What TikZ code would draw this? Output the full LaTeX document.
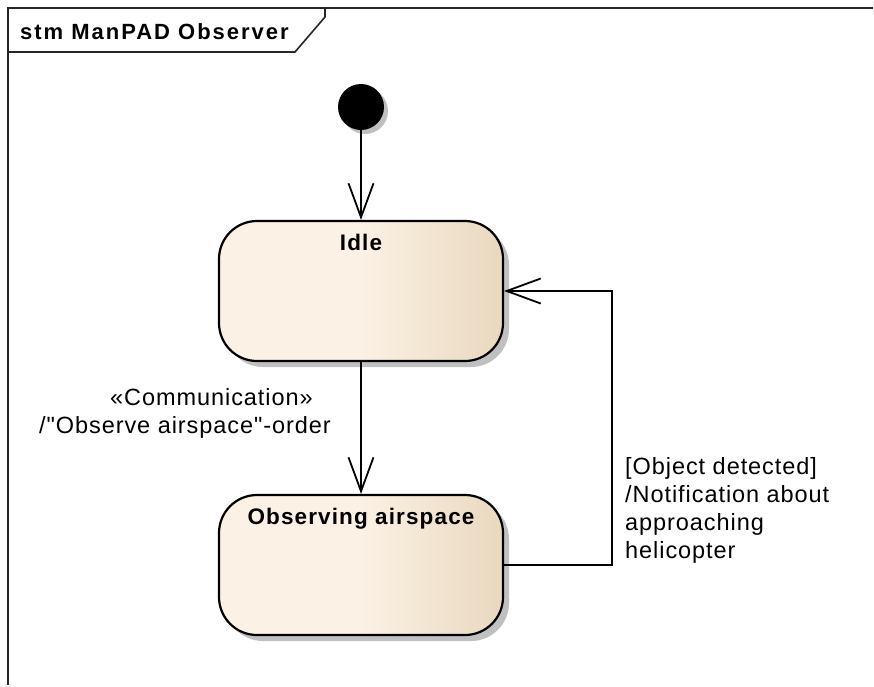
\documentclass[tikz,border=0pt]{standalone}
\usepackage{fontspec}
\newfontfamily\mylib{Liberation Sans}
\usetikzlibrary{arrows.meta,shadows}
\definecolor{stcream}{RGB}{251,241,228}
\definecolor{stbeige}{RGB}{233,216,190}
\definecolor{shadowgray}{RGB}{192,192,192}
\pgfdeclarehorizontalshading{statefill}{100bp}{color(0bp)=(stcream); color(25bp)=(stcream); color(50bp)=(stcream); color(75bp)=(stbeige); color(100bp)=(stbeige)}
\newcommand\mylblfont{\mylib\fontsize{23.5}{28}\selectfont\addfontfeature{LetterSpace=4}}
\newcommand\mystatefont{\mylib\fontsize{22.5}{26}\selectfont\bfseries\addfontfeature{LetterSpace=5}}
\newcommand\mytabfont{\mylib\fontsize{22}{26}\selectfont\bfseries\addfontfeature{LetterSpace=9}}
\tikzset{
  frameline/.style={line width=1.6pt, black!85},
  statebox/.style={draw, line width=2.2pt, rounded corners=38pt,
    minimum width=284pt, minimum height=140pt, inner sep=0pt,
    shading=statefill,
    drop shadow={shadow xshift=6pt, shadow yshift=-6pt, fill=shadowgray, opacity=1}},
  initdot/.style={circle, fill=black, minimum size=46pt, inner sep=0pt,
    drop shadow={shadow xshift=4pt, shadow yshift=-4pt, fill=shadowgray, opacity=1}},
  trans/.style={line width=1.8pt, -{Straight Barb[length=34pt,width=25pt]}},
  lbl/.style={inner sep=0pt, font=\mylblfont},
  statetitle/.style={inner sep=0pt, font=\mystatefont, anchor=base},
  tabtitle/.style={inner sep=0pt, font=\mytabfont, anchor=base west}
}
\begin{document}
\begin{tikzpicture}[x=1pt,y=-1pt]
\useasboundingbox (0,0) rectangle (874,686);
% frame
\draw[frameline] (8,685) -- (8,8) -- (873,8);
\draw[frameline] (8,52) -- (295,52) -- (325,17) -- (325,8);
\node[tabtitle] (title) at (20,39) {stm ManPAD Observer};
% states
\node[initdot] (init) at (361,107) {};
\node[statebox] (idle) at (361,291) {};
\node[statetitle] (idlet) at ([yshift=-31pt]idle.north) {Idle};
\node[statebox] (obs) at (361,565) {};
\node[statetitle] (obst) at ([yshift=-31pt]obs.north) {Observing airspace};
% transitions
\draw[trans] (init) -- (idle);
\draw[trans] (idle.south) -- (obs.north);
\coordinate (turn) at (612,430);
\draw[trans] (obs.east) -| (turn) |- (idle.east);
% labels
\node[lbl, anchor=base west] (stereo) at (110,405) {«Communication»};
\node[lbl, anchor=base east] (effect) at (331,433) {/"Observe airspace"-order};
\node[lbl, anchor=base west, align=left] (guard) at (625,558) {[Object detected]\\/Notification about\\approaching\\helicopter};
\end{tikzpicture}
\end{document}
